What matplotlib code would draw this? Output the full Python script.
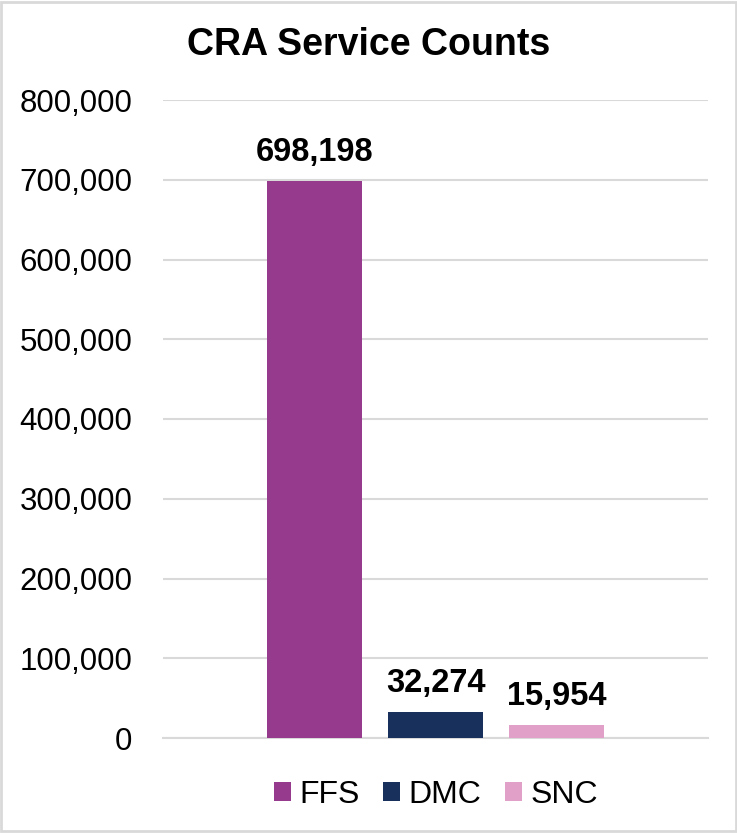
import matplotlib
matplotlib.use("Agg")
import matplotlib.pyplot as plt
from matplotlib.patches import Rectangle
from matplotlib.ticker import FuncFormatter

plt.rcParams['font.family'] = ['Liberation Sans', 'DejaVu Sans']

series = ["FFS", "DMC", "SNC"]
counts = [698198, 32274, 15954]
colors = ["#963A8D", "#17315C", "#E0A0C8"]
yticks = [0, 100000, 200000, 300000, 400000, 500000, 600000, 700000, 800000]

fig = plt.figure(figsize=(7.37, 8.33), dpi=100)
ax = fig.add_axes([163 / 737, 1 - 738 / 833, 545 / 737, 638 / 833])

positions = [-1, 0, 1]
for pos, name, val, col in zip(positions, series, counts, colors):
    ax.bar(pos, val, width=0.79, color=col, label=name, zorder=3)
    ax.text(pos, val + 17000, f"{val:,}", ha="center", va="bottom",
            fontsize=23.5, fontweight="bold", color="black")

ax.set_xlim(-2.25, 2.25)
ax.set_ylim(0, 800000)
ax.set_yticks(yticks)
ax.yaxis.set_major_formatter(FuncFormatter(lambda v, p: f"{int(v):,}"))
ax.tick_params(axis="y", length=0, pad=22, labelsize=22.5)
ax.set_xticks([])
ax.grid(axis="y", color="#D9D9D9", linewidth=1.5, zorder=0)
for s in ["top", "right", "left"]:
    ax.spines[s].set_visible(False)
ax.spines["bottom"].set_color("#D9D9D9")
ax.spines["bottom"].set_linewidth(1.5)

fig.text(0.5, 1 - 45 / 833, "CRA Service Counts", ha="center", va="center",
         fontsize=27, fontweight="bold")

leg = fig.legend(loc="center", bbox_to_anchor=(436 / 737, 1 - 795 / 833),
                 ncol=3, frameon=False, fontsize=23, handlelength=0.53,
                 handleheight=0.53, handletextpad=0.25, columnspacing=0.75)

fig.patches.append(Rectangle((0.002, 0.002), 0.996, 0.996, transform=fig.transFigure,
                             fill=False, edgecolor="#D9D9D9", linewidth=2))

fig.savefig("out.png", dpi=100)
